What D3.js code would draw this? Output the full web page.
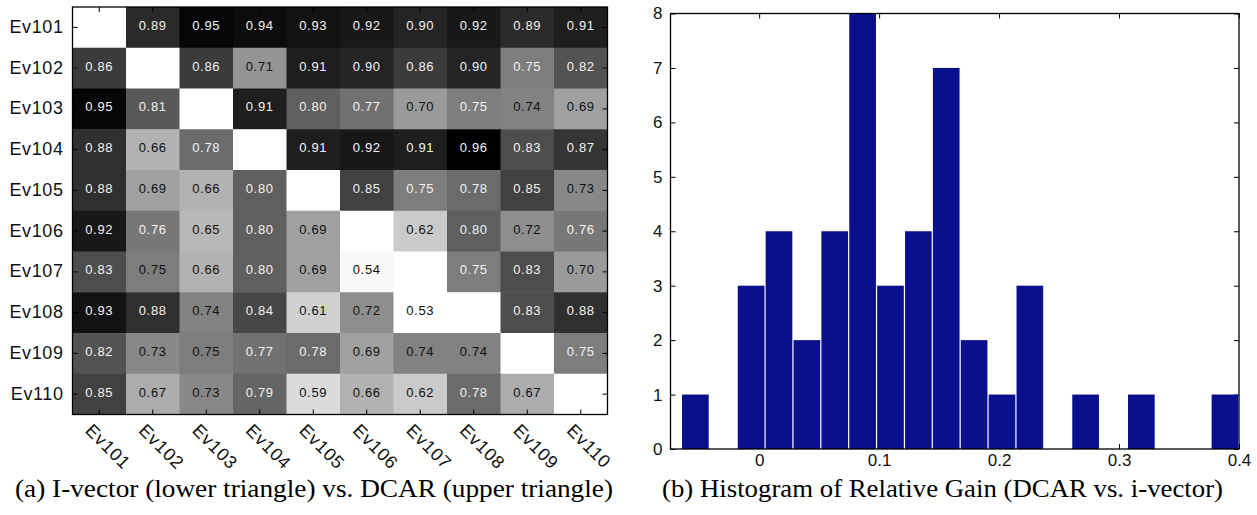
<!DOCTYPE html>
<html>
<head>
<meta charset="utf-8">
<script src="https://cdn.jsdelivr.net/npm/d3@7"></script>
<style>
  body { margin: 0; background: #fff; }
  svg { display: block; }
</style>
</head>
<body>
<script>
// speakers on both axes of the similarity matrix
var speakers = ['Ev101', 'Ev102', 'Ev103', 'Ev104', 'Ev105',
                'Ev106', 'Ev107', 'Ev108', 'Ev109', 'Ev110'];

// lower triangle: i-vector, upper triangle: DCAR (diagonal left blank)
var scores = [
  [null, 0.89, 0.95, 0.94, 0.93, 0.92, 0.90, 0.92, 0.89, 0.91],
  [0.86, null, 0.86, 0.71, 0.91, 0.90, 0.86, 0.90, 0.75, 0.82],
  [0.95, 0.81, null, 0.91, 0.80, 0.77, 0.70, 0.75, 0.74, 0.69],
  [0.88, 0.66, 0.78, null, 0.91, 0.92, 0.91, 0.96, 0.83, 0.87],
  [0.88, 0.69, 0.66, 0.80, null, 0.85, 0.75, 0.78, 0.85, 0.73],
  [0.92, 0.76, 0.65, 0.80, 0.69, null, 0.62, 0.80, 0.72, 0.76],
  [0.83, 0.749, 0.66, 0.80, 0.69, 0.54, null, 0.75, 0.83, 0.70],
  [0.93, 0.88, 0.74, 0.84, 0.61, 0.72, 0.53, null, 0.83, 0.88],
  [0.82, 0.73, 0.749, 0.77, 0.78, 0.69, 0.74, 0.74, null, 0.75],
  [0.85, 0.67, 0.73, 0.79, 0.59, 0.66, 0.62, 0.78, 0.67, null]
];

// histogram of relative gain: 20 bins between min and max
var gainMin = -0.0647, gainMax = 0.4;
var binCounts = [1, 0, 3, 4, 2, 4, 8, 3, 4, 7, 2, 1, 3, 0, 1, 0, 1, 0, 0, 1];
var yTicks = [0, 1, 2, 3, 4, 5, 6, 7, 8];
var xTicks = [0, 0.1, 0.2, 0.3, 0.4];

var captionA = '(a) I-vector (lower triangle) vs. DCAR (upper triangle)';
var captionB = '(b) Histogram of Relative Gain (DCAR vs. i-vector)';

var SANS = '"Liberation Sans", Arial, Helvetica, sans-serif';
var SERIF = '"Liberation Serif", "Times New Roman", serif';

var svg = d3.select('body').append('svg')
    .attr('width', 1257).attr('height', 515);

// ---------- (a) heatmap ----------
var hm = { left: 72.5, top: 7, right: 607.5, bottom: 414.5 };

var xb = d3.scaleBand().domain(speakers).range([hm.left, hm.right]);
var yb = d3.scaleBand().domain(speakers).range([hm.top, hm.bottom]);
var grey = d3.scaleLinear().domain([0.96, 0.53]).range(['#000', '#fff']).clamp(true);

var cells = [];
scores.forEach(function(row, i) {
  row.forEach(function(v, j) { cells.push({ r: speakers[i], c: speakers[j], v: v }); });
});

svg.append('g').selectAll('rect')
    .data(cells).enter().append('rect')
    .attr('x', function(d) { return xb(d.c); })
    .attr('y', function(d) { return yb(d.r); })
    .attr('width', xb.bandwidth() + 0.5)
    .attr('height', yb.bandwidth() + 0.5)
    .attr('fill', function(d) { return d.v == null ? '#fff' : grey(d.v); });

svg.append('g').selectAll('text')
    .data(cells.filter(function(d) { return d.v != null; }))
    .enter().append('text')
    .attr('x', function(d) { return xb(d.c) + xb.bandwidth() / 2; })
    .attr('y', function(d) { return yb(d.r) + yb.bandwidth() / 2 - 2; })
    .attr('dy', '0.35em')
    .attr('text-anchor', 'middle')
    .style('font-family', SANS)
    .style('font-size', '13px')
    .style('letter-spacing', '0.7px')
    .attr('fill', function(d) { return d.v >= 0.75 ? '#f2f2f2' : '#111'; })
    .text(function(d) { return d.v.toFixed(2); });

function tidy(g, noText) {
  g.select('.domain').remove();
  g.selectAll('line').attr('stroke', '#000');
  if (noText) g.selectAll('text').remove();
  g.selectAll('text').style('font-family', SANS).attr('fill', '#111');
}

var hmLeft = svg.append('g').attr('transform', 'translate(' + hm.left + ',0)')
    .call(d3.axisLeft(yb).tickSize(-5).tickPadding(9))
    .call(tidy);
hmLeft.selectAll('text')
    .style('font-size', '18px').style('letter-spacing', '0.6px')
    .attr('dy', '0.3em');

svg.append('g').attr('transform', 'translate(' + hm.right + ',0)')
    .call(d3.axisRight(yb).tickSize(-5)).call(tidy, true);
svg.append('g').attr('transform', 'translate(0,' + hm.top + ')')
    .call(d3.axisTop(xb).tickSize(-5)).call(tidy, true);

var hmBottom = svg.append('g').attr('transform', 'translate(0,' + hm.bottom + ')')
    .call(d3.axisBottom(xb).tickSize(-5))
    .call(tidy);
hmBottom.selectAll('text')
    .attr('x', 0).attr('y', 0).attr('dy', 0)
    .attr('transform', 'translate(-15,17) rotate(45)')
    .style('text-anchor', 'start')
    .style('font-size', '18px').style('letter-spacing', '0.8px');

svg.append('rect')
    .attr('x', hm.left).attr('y', hm.top)
    .attr('width', hm.right - hm.left).attr('height', hm.bottom - hm.top)
    .attr('fill', 'none').attr('stroke', '#000').attr('stroke-width', 1.3);

// ---------- (b) histogram ----------
var hs = { left: 670.5, top: 13.5, right: 1239, bottom: 449 };

var x = d3.scaleLinear().domain([-0.0739, 0.4]).range([hs.left, hs.right]);
var y = d3.scaleLinear().domain([0, 8]).range([hs.bottom, hs.top]);

var binW = (gainMax - gainMin) / binCounts.length;
var bins = binCounts.map(function(n, i) {
  return { x0: gainMin + i * binW, x1: gainMin + (i + 1) * binW, n: n };
});

var hsLeft = svg.append('g').attr('transform', 'translate(' + hs.left + ',0)')
    .call(d3.axisLeft(y).tickValues(yTicks).tickSize(-5).tickPadding(8).tickFormat(d3.format('d')))
    .call(tidy);
svg.append('g').attr('transform', 'translate(' + hs.right + ',0)')
    .call(d3.axisRight(y).tickValues(yTicks).tickSize(-5)).call(tidy, true);
svg.append('g').attr('transform', 'translate(0,' + hs.top + ')')
    .call(d3.axisTop(x).tickValues(xTicks).tickSize(-5)).call(tidy, true);
var hsBottom = svg.append('g').attr('transform', 'translate(0,' + hs.bottom + ')')
    .call(d3.axisBottom(x).tickValues(xTicks).tickSize(-5).tickPadding(5)
      .tickFormat(function(d) { return d === 0 ? '0' : d3.format('.1f')(d); }))
    .call(tidy);

hsLeft.selectAll('text').style('font-size', '17px');
hsBottom.selectAll('text').style('font-size', '17px');

svg.append('g').selectAll('rect')
    .data(bins.filter(function(b) { return b.n > 0; }))
    .enter().append('rect')
    .attr('x', function(b) { return x(b.x0) + 0.5; })
    .attr('y', function(b) { return y(b.n); })
    .attr('width', function(b) { return x(b.x1) - x(b.x0) - 1.2; })
    .attr('height', function(b) { return y(0) - y(b.n); })
    .attr('fill', '#0a0f8e');

svg.append('rect')
    .attr('x', hs.left).attr('y', hs.top)
    .attr('width', hs.right - hs.left).attr('height', hs.bottom - hs.top)
    .attr('fill', 'none').attr('stroke', '#000').attr('stroke-width', 1.3);

// ---------- captions ----------
svg.append('text')
    .attr('x', 15).attr('y', 497)
    .style('font-family', SERIF)
    .style('font-size', '25px')
    .attr('textLength', 598).attr('lengthAdjust', 'spacingAndGlyphs')
    .text(captionA);
svg.append('text')
    .attr('x', 662).attr('y', 497)
    .style('font-family', SERIF)
    .style('font-size', '25px')
    .attr('textLength', 561).attr('lengthAdjust', 'spacingAndGlyphs')
    .text(captionB);
</script>
</body>
</html>
